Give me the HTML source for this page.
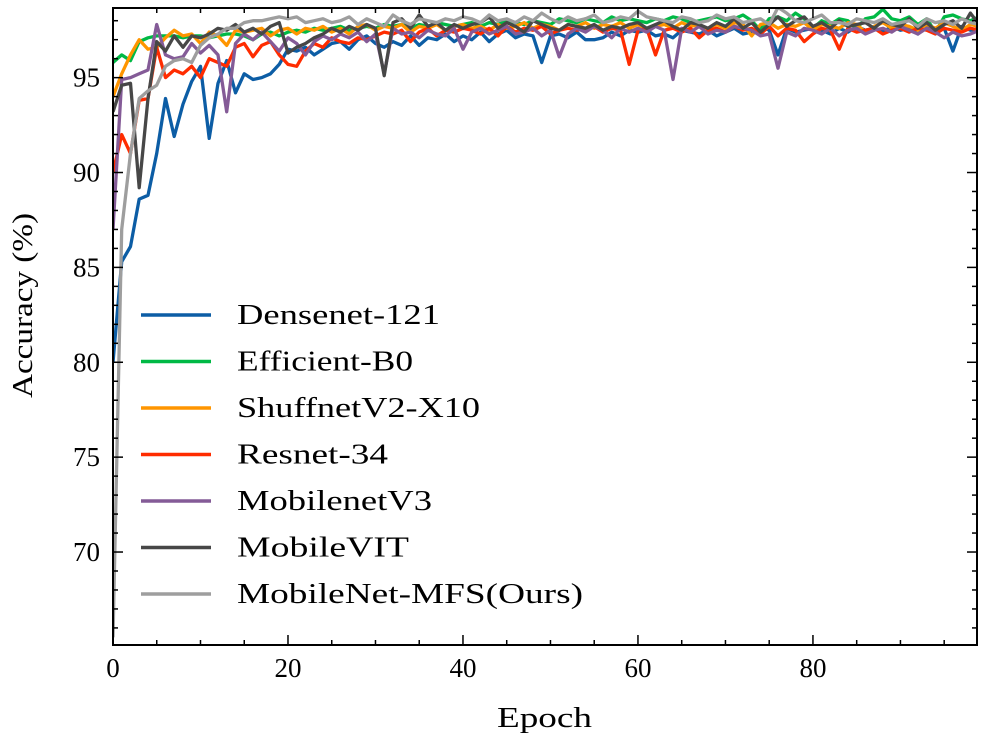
<!DOCTYPE html>
<html><head><meta charset="utf-8"><style>
body{margin:0;background:#fff;}
svg{display:block;font-family:"Liberation Serif","DejaVu Serif",serif;}
</style></head><body>
<svg id="chart" width="993" height="741" xmlns="http://www.w3.org/2000/svg">
<defs><clipPath id="clip"><rect x="113" y="8" width="864" height="637"/></clipPath></defs>
<g id="lines" clip-path="url(#clip)"></g>
<rect x="113" y="8" width="864" height="637" fill="none" stroke="#000" stroke-width="2"/>
<g id="ticks"></g>
<text x="497" y="727" font-size="29" textLength="95" lengthAdjust="spacingAndGlyphs">Epoch</text>
<text transform="translate(32,398) rotate(-90)" font-size="29" textLength="185" lengthAdjust="spacingAndGlyphs">Accuracy (%)</text>
<g id="legend"></g>
</svg>
<script>
const seriesNames=["Densenet-121","Efficient-B0","ShuffnetV2-X10","Resnet-34","MobilenetV3","MobileVIT","MobileNet-MFS(Ours)"];
const seriesColors=["#0C5DA5","#00B945","#FF9500","#FF2C00","#845B97","#474747","#9E9E9E"];
const xTicks=[0,20,40,60,80];
const yTicks=[70,75,80,85,90,95];
const densenet=[80,85.3,86.1,88.6,88.8,91,93.9,91.9,93.6,94.8,95.6,91.8,94.7,95.9,94.2,95.2,94.9,95,95.2,95.7,
96.5,96.4,96.6,96.2,96.5,96.8,96.9,96.5,97,97.2,96.8,96.6,96.9,96.7,97.2,96.7,97.1,97,97.3,96.9,
97.2,97,97.4,96.9,97.3,97.5,97.1,97.3,97.2,95.8,97.2,97.3,97.1,97.4,97,97,97.1,97.4,97.2,97.5,
97.4,97.5,97.2,97.3,97.1,97.5,97.4,97.3,97.5,97.2,97.4,97.6,97.3,97.4,97.7,97.5,96.2,97.6,97.4,97.5,
97.6,97.5,97.3,97.6,97.4,97.7,97.5,97.6,97.4,97.7,97.5,97.6,97.3,97.7,97.5,97.6,96.4,97.7,97.5,97.6];
const efficient=[95.8,96.2,95.9,96.9,97.1,97.2,97.2,97.2,97.1,97.2,97.2,97.1,97.2,97.3,97.3,97.2,97.0,97.3,97.4,97.2,
97.4,97.5,97.4,97.6,97.5,97.6,97.7,97.5,97.6,97.7,97.6,97.8,97.7,97.8,97.6,97.8,97.7,97.9,97.8,97.7,
97.8,97.9,97.7,97.9,97.8,98,97.9,97.8,98,97.9,97.8,98.1,98,97.9,98.1,98,97.9,98.2,98,98.1,
98,97.9,98.1,98,98.2,98.1,97.9,98,98.1,98.2,98,98.1,98.3,98,97.5,98.1,98.2,98,98.4,98.1,
97.6,98,97.8,98.1,98,97.6,98.1,98.2,98.6,98.1,98,98.2,97.8,98.1,97.4,98.2,98.3,98.1,98,98.2];
const shufflenet=[94,95.2,96.2,97,96.5,96.6,97.1,97.5,97.2,97.3,96.8,97.4,97.2,96.7,97.5,97.4,97.5,97.6,97.2,97.5,
97.6,97.3,97.6,97.5,97.7,97.4,97.6,97.3,97.7,97.8,97.5,97.7,97.6,97.8,97.4,97.7,97.6,97.8,97.5,97.7,
97.8,97.6,97.7,97.5,97.8,97.6,97.7,97.9,97.6,97.8,97.7,97.5,97.8,97.7,97.9,97.6,97.8,97.7,97.9,97.6,
97.8,97.5,97.7,97.8,97.6,97.9,97.7,97.8,97.5,97.8,97.6,97.9,97.8,97.2,97.8,97.9,97.6,97.8,97.7,97.9,
97.5,97.8,97.7,97.6,97.9,97.8,97.4,97.7,97.9,97.6,97.8,97.7,97.5,97.8,97.6,97.9,97.7,97.5,97.8,97.7];
const resnet=[90,92,91,93.8,93.9,96.6,95,95.4,95.2,95.6,95,96,95.8,95.6,96.6,96.8,96.1,96.7,96.9,96.2,
95.7,95.6,96.4,96.8,96.6,97.1,96.9,96.8,97.1,97.0,97.2,97.4,97.3,97.5,96.9,97.4,97.6,97.2,97.5,97.4,
97.6,97.5,97.3,97.6,97.2,97.7,97.4,97.6,97.5,97.7,97.3,97.5,97.6,97.5,97.6,97.7,97.4,97.6,97.5,95.7,
97.5,97.6,96.2,97.5,97.6,97.4,97.6,97.1,97.5,97.6,97.4,97.7,97.5,97.6,97.3,97.7,97.2,97.6,97.5,96.9,
97.3,97.6,97.5,96.5,97.6,97.4,97.5,97.6,97.3,97.5,97.6,97.4,97.6,97.5,97.3,97.6,97.5,97.4,97.6,97.5];
const mobilenet=[87,94.9,95,95.2,95.4,97.8,96.2,96,96.1,96.8,96.3,96.7,96.2,93.2,96.8,97.3,97,97.4,96.9,96.4,
97.1,96.8,96.2,96.9,97.2,97.0,97.3,97.1,97.4,96.9,97.3,95.2,97.6,97.3,97.4,97.1,97.5,97.3,97.2,97.6,
96.5,97.4,97.6,97.3,97.5,97.7,97.3,97.4,97.6,97.2,97.5,96.1,97.3,97.6,97.4,97.7,97.5,97.1,97.6,97.4,
97.6,97.4,97.7,97.5,94.9,97.6,97.4,97.7,97.3,97.5,97.4,97.7,97.6,97.5,97.2,97.3,95.5,97.4,97.2,97.6,
97.5,97.3,97.6,97.2,97.5,97.6,97.3,97.5,97.6,97.4,97.7,97.5,97.3,97.6,97.4,97.1,97.4,97.2,97.3,97.5];
const mobilevit=[93.2,94.6,94.7,89.2,93.9,96.9,96.4,97.2,96.6,97.2,97.1,97.3,97.6,97.5,97.8,97.4,97.6,97.3,97.7,97.9,
96.3,96.6,96.8,97.1,97.3,97.6,97.4,97.7,97.5,97.8,97.6,95.1,97.9,98.1,97.6,98.3,97.7,97.9,97.5,97.8,
97.6,97.8,97.9,98.2,97.6,97.9,97.7,97.4,98,97.8,97.6,97.5,97.8,97.7,97.6,97.8,97.5,97.7,97.6,97.8,
97.9,97.6,97.8,98,97.7,97.5,97.9,97.8,97.6,97.9,97.7,98.1,97.6,97.9,97.4,97.8,98.2,97.7,98,98.2,
97.7,97.9,97.6,98,97.7,97.8,97.9,97.6,98,97.8,97.7,98.1,97.6,97.9,97.5,97.8,98,97.6,98.4,97.8];
const mfs=[65.5,87,91,93.9,94.3,94.6,95.6,95.9,96,95.8,96.7,97.1,97.3,97.6,97.6,97.9,98,98,98.1,98.2,
98.1,98.2,97.9,98,98.1,97.9,98.0,98.2,97.8,98.1,97.9,97.7,98.3,98.0,97.8,98.1,98,97.9,98.1,98,
98.2,98.1,97.9,98.3,98.0,98.1,97.9,98.2,98,98.4,98.1,97.9,98.2,98,98.1,98.3,97.9,98,98.2,98.1,
98.5,98.2,98.1,98,97.9,98.2,98.1,97.9,98,98.3,98.1,98.2,97.9,98,98.1,97.8,98.7,98.4,98,97.9,
98.1,98.3,97.9,97.9,97.8,98.1,98,97.9,98.1,97.8,97.9,98,97.7,98.1,97.9,98,97.8,98.1,97.9,97.8];
const allSeries=[densenet,efficient,shufflenet,resnet,mobilenet,mobilevit,mfs];
const legendWidths=[203,176,243,151,195,172,346];

const NS="http://www.w3.org/2000/svg";
const X0=113,X1=977,Y0=645,Y1=8;
const xMin=0,xMax=98.75,yMin=65.1,yMax=98.67;
function sx(v){return X0+(v-xMin)/(xMax-xMin)*(X1-X0);}
function sy(v){return Y0-(v-yMin)/(yMax-yMin)*(Y0-Y1);}
function mk(tag,attrs,parent){const e=document.createElementNS(NS,tag);for(const k in attrs)e.setAttribute(k,attrs[k]);parent.appendChild(e);return e;}

const lines=document.getElementById('lines');
allSeries.forEach((s,i)=>{
  const d=s.map((v,j)=>(j?'L':'M')+sx(j).toFixed(1)+','+sy(v).toFixed(1)).join(' ');
  const p=mk('path',{d:d,fill:'none',stroke:seriesColors[i],'stroke-width':3.3,'stroke-linejoin':'round'},lines);
  
  
});

const ticks=document.getElementById('ticks');
for(let v=0;v<=xMax;v+=5){
  const major=v%20===0;const L=major?10:5;const x=sx(v);
  mk('line',{x1:x,x2:x,y1:Y0,y2:Y0-L,stroke:'#000','stroke-width':1.5},ticks);
  mk('line',{x1:x,x2:x,y1:Y1,y2:Y1+L,stroke:'#000','stroke-width':1.5},ticks);
}
xTicks.forEach(v=>{
  const t=mk('text',{x:sx(v),y:677,'font-size':27,'text-anchor':'middle'},ticks);
  t.textContent=v;
  
  
});
for(let v=66;v<=98;v+=1){
  const major=v%5===0;const L=major?10:5;const y=sy(v);
  mk('line',{x1:X0,x2:X0+L,y1:y,y2:y,stroke:'#000','stroke-width':1.5},ticks);
  mk('line',{x1:X1,x2:X1-L,y1:y,y2:y,stroke:'#000','stroke-width':1.5},ticks);
}
yTicks.forEach(v=>{
  const t=mk('text',{x:100,y:sy(v)+9,'font-size':27,'text-anchor':'end'},ticks);
  t.textContent=v;
  
  
});

const legend=document.getElementById('legend');


seriesNames.forEach((n,i)=>{
  const y=315+i*46.5;
  const g=mk('g',{},legend);
  
  
  mk('line',{x1:141,x2:211,y1:y,y2:y,stroke:seriesColors[i],'stroke-width':3.5},g);
  const t=mk('text',{x:237,y:y+9,'font-size':28,textLength:legendWidths[i],lengthAdjust:'spacingAndGlyphs'},g);
  t.textContent=n;
});
</script>
</body></html>
